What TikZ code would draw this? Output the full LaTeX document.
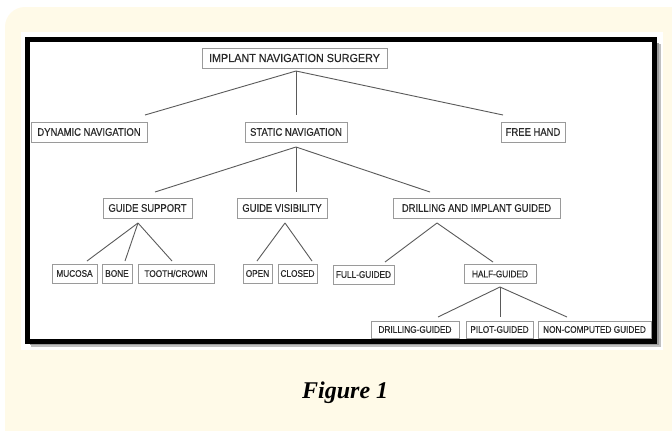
\documentclass[tikz,border=0pt]{standalone}
\usepackage{fontspec}
\setmainfont{Liberation Sans}
\newfontfamily\capfont{Liberation Serif}
\newfontfamily\nfont[FakeStretch=0.86,FakeBold=0.4]{Liberation Sans}
\newfontfamily\rfont[FakeStretch=0.93,FakeBold=0.4]{Liberation Sans}
\usetikzlibrary{calc}
\definecolor{cream}{HTML}{FFFAE8}
\definecolor{boxline}{HTML}{9A9A9A}
\definecolor{conn}{HTML}{5A5A5A}
\definecolor{txt}{HTML}{2A2A2A}
\begin{document}
\begin{tikzpicture}[x=1pt,y=-1pt,
  bx/.style={draw=boxline,line width=0.9pt,fill=white,inner sep=0pt,
    minimum height=20pt,text=txt,font=\nfont\fontsize{11}{12}\selectfont},
  sbx/.style={bx,minimum height=19pt,font=\nfont\fontsize{9.6}{10}\selectfont},
  cn/.style={draw=conn,line width=0.9pt}]
\useasboundingbox (0,0) rectangle (672,431);
% background
\fill[white] (0,0) rectangle (672,431);
\fill[cream,rounded corners=20pt] (5,7) rectangle (690,450);
\fill[white] (21,32) rectangle (663,350);
% frame shadow
\fill[black!25] (31,44) rectangle (661,347);
\fill[black!40] (30,43) rectangle (659,345);
\fill[white] (27.5,39.5) rectangle (654.5,341);
\draw[black,line width=5pt] (27.5,39.5) rectangle (654.5,341);
% nodes
\node[bx,minimum width=185pt,font=\rfont\fontsize{11.6}{12}\selectfont] (root) at (294.5,58) {IMPLANT NAVIGATION SURGERY};
\node[bx,minimum width=116pt] (dyn) at (89,132) {DYNAMIC NAVIGATION};
\node[bx,minimum width=102pt] (stat) at (296,132) {STATIC NAVIGATION};
\node[bx,minimum width=64pt] (free) at (533,132) {FREE HAND};
\node[bx,minimum width=89pt] (gsup) at (147.5,208) {GUIDE SUPPORT};
\node[bx,minimum width=90pt] (gvis) at (282,208) {GUIDE VISIBILITY};
\node[bx,minimum width=167pt] (dig) at (476.5,208) {DRILLING AND IMPLANT GUIDED};
\node[sbx,minimum width=45pt] (mucosa) at (74.5,273.5) {MUCOSA};
\node[sbx,minimum width=30pt] (bone) at (117,273.5) {BONE};
\node[sbx,minimum width=76pt] (tooth) at (176,273.5) {TOOTH/CROWN};
\node[sbx,minimum width=29pt] (open) at (257.5,273.5) {OPEN};
\node[sbx,minimum width=39pt] (closed) at (297.5,273.5) {CLOSED};
\node[sbx,minimum width=61pt] (full) at (363.5,274.5) {FULL-GUIDED};
\node[sbx,minimum width=72pt] (half) at (500,274) {HALF-GUIDED};
\node[sbx,minimum width=88pt,minimum height=17pt] (drg) at (415,329.5) {DRILLING-GUIDED};
\node[sbx,minimum width=67pt,minimum height=17pt] (pil) at (499.5,329.5) {PILOT-GUIDED};
\node[sbx,minimum width=113pt,minimum height=17pt] (ncg) at (594.5,329.5) {NON-COMPUTED GUIDED};
% connector points
\coordinate (rootA) at (296,71);
\coordinate (dynT) at (145,115);
\coordinate (statT) at (296,115);
\coordinate (freeT) at (503,115);
\coordinate (statA) at (296,147);
\coordinate (gsupT) at (155,192);
\coordinate (gvisT) at (296,192);
\coordinate (digT) at (430,192);
\coordinate (gsupA) at (138,223);
\coordinate (mucT) at (87,261);
\coordinate (boneT) at (125,261);
\coordinate (toothT) at (172,261);
\coordinate (gvisA) at (285,223);
\coordinate (openT) at (257,261);
\coordinate (closedT) at (312,261);
\coordinate (digA) at (437,223);
\coordinate (fullT) at (385,262);
\coordinate (halfT) at (493,262);
\coordinate (halfA) at (500,287);
\coordinate (drgT) at (438,317);
\coordinate (pilT) at (500,317);
\coordinate (ncgT) at (567,317);
% connectors
\draw[cn] (rootA) -- (dynT);
\draw[cn] (rootA) -- (statT);
\draw[cn] (rootA) -- (freeT);
\draw[cn] (statA) -- (gsupT);
\draw[cn] (statA) -- (gvisT);
\draw[cn] (statA) -- (digT);
\draw[cn] (gsupA) -- (mucT);
\draw[cn] (gsupA) -- (boneT);
\draw[cn] (gsupA) -- (toothT);
\draw[cn] (gvisA) -- (openT);
\draw[cn] (gvisA) -- (closedT);
\draw[cn] (digA) -- (fullT);
\draw[cn] (digA) -- (halfT);
\draw[cn] (halfA) -- (drgT);
\draw[cn] (halfA) -- (pilT);
\draw[cn] (halfA) -- (ncgT);
% caption
\node[anchor=base west,inner sep=0pt,font=\capfont\bfseries\itshape\fontsize{24}{26}\selectfont] (cap) at (302,398) {Figure 1};
\end{tikzpicture}
\end{document}
